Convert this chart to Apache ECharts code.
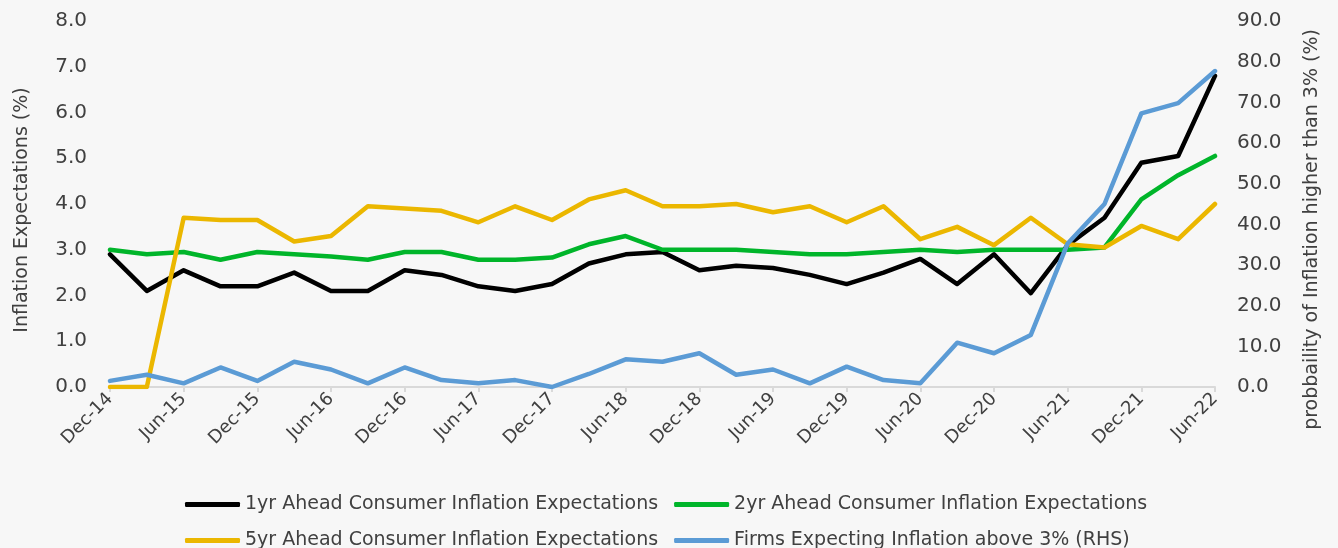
<!DOCTYPE html>
<html>
<head>
<meta charset="utf-8">
<script src="https://cdn.jsdelivr.net/npm/echarts@6/dist/echarts.min.js"></script>
<style>
  html, body { margin: 0; padding: 0; background: #f7f7f7; }
  #chart { width: 1338px; height: 548px; }
</style>
</head>
<body>
<div id="chart"></div>
<script>
// quarterly observations
const categories = ['Dec-14', 'Mar-15', 'Jun-15', 'Sep-15', 'Dec-15', 'Mar-16', 'Jun-16', 'Sep-16',
  'Dec-16', 'Mar-17', 'Jun-17', 'Sep-17', 'Dec-17', 'Mar-18', 'Jun-18', 'Sep-18', 'Dec-18',
  'Mar-19', 'Jun-19', 'Sep-19', 'Dec-19', 'Mar-20', 'Jun-20', 'Sep-20', 'Dec-20', 'Mar-21',
  'Jun-21', 'Sep-21', 'Dec-21', 'Mar-22', 'Jun-22'];

const oneYr = [2.9, 2.1, 2.55, 2.2, 2.2, 2.5, 2.1, 2.1, 2.55, 2.45, 2.2, 2.1, 2.25, 2.7, 2.9, 2.95,
  2.55, 2.65, 2.6, 2.45, 2.25, 2.5, 2.8, 2.25, 2.9, 2.05, 3.1, 3.7, 4.9, 5.05, 6.8];
const twoYr = [3.0, 2.9, 2.95, 2.78, 2.95, 2.9, 2.85, 2.78, 2.95, 2.95, 2.78, 2.78, 2.83, 3.12, 3.3, 3.0,
  3.0, 3.0, 2.95, 2.9, 2.9, 2.95, 3.0, 2.95, 3.0, 3.0, 3.0, 3.05, 4.1, 4.63, 5.05];
const fiveYr = [0, 0, 3.7, 3.65, 3.65, 3.18, 3.3, 3.95, 3.9, 3.85, 3.6, 3.95, 3.65, 4.1, 4.3, 3.95,
  3.95, 4.0, 3.82, 3.95, 3.6, 3.95, 3.23, 3.5, 3.1, 3.7, 3.12, 3.05, 3.52, 3.23, 4.0];
// right hand side, % of firms
const firms = [1.5, 3.0, 0.9, 4.8, 1.5, 6.2, 4.3, 0.9, 4.8, 1.7, 0.9, 1.7, 0, 3.2, 6.8, 6.2,
  8.3, 3.0, 4.3, 0.9, 5.0, 1.7, 0.9, 10.9, 8.3, 12.8, 35.3, 45.0, 67.3, 69.8, 77.7];

const names = [
  '1yr Ahead Consumer Inflation Expectations',
  '2yr Ahead Consumer Inflation Expectations',
  '5yr Ahead Consumer Inflation Expectations',
  'Firms Expecting Inflation above 3% (RHS)'
];
const colors = ['#000000', '#00b52a', '#ebb700', '#5b9bd5'];

const font = '"DejaVu Sans", sans-serif';
const txt = '#404040';

const chart = echarts.init(document.getElementById('chart'));

const lineSeries = (i, data, axis) => ({
  name: names[i],
  type: 'line',
  yAxisIndex: axis,
  data: data,
  symbol: 'none',
  color: colors[i],
  lineStyle: { width: 4.5, color: colors[i], cap: 'round', join: 'round' },
  animation: false
});

const legendRow = (top, items) => ({
  left: 185,
  top: top,
  padding: 0,
  orient: 'horizontal',
  icon: 'roundRect',
  itemWidth: 55,
  itemHeight: 5,
  itemGap: 16,
  data: items,
  textStyle: { fontFamily: font, fontSize: 19, color: txt }
});

chart.setOption({
  backgroundColor: '#f7f7f7',
  textStyle: { fontFamily: font },
  grid: { left: 110, right: 123, top: 21, bottom: 161 },
  legend: [
    legendRow(495, [names[0], names[1]]),
    legendRow(531, [names[2], names[3]])
  ],
  xAxis: {
    type: 'category',
    data: categories,
    boundaryGap: false,
    axisLine: { lineStyle: { color: '#d9d9d9', width: 2 } },
    axisTick: { interval: 1, length: 5, lineStyle: { color: '#d9d9d9', width: 2 } },
    axisLabel: {
      interval: 1, rotate: 45, margin: 9,
      fontFamily: font, fontSize: 18, color: txt
    },
    splitLine: { show: false }
  },
  yAxis: [
    {
      type: 'value', min: 0, max: 8, interval: 1,
      name: 'Inflation Expectations (%)',
      nameLocation: 'middle', nameRotate: 90, nameGap: 78,
      nameTextStyle: { fontFamily: font, fontSize: 19, color: txt, padding: [0, 12, 0, 0] },
      axisLine: { show: false }, axisTick: { show: false }, splitLine: { show: false },
      axisLabel: { formatter: v => v.toFixed(1), fontFamily: font, fontSize: 20, color: txt, margin: 23 }
    },
    {
      type: 'value', min: 0, max: 90, interval: 10,
      name: 'probbaility of Inflation higher than 3% (%)',
      nameLocation: 'middle', nameRotate: 90, nameGap: 88,
      nameTextStyle: { fontFamily: font, fontSize: 19, color: txt, padding: [0, 51, 0, 0] },
      axisLine: { show: false }, axisTick: { show: false }, splitLine: { show: false },
      axisLabel: { formatter: v => v.toFixed(1), fontFamily: font, fontSize: 20, color: txt, margin: 22 }
    }
  ],
  series: [
    lineSeries(0, oneYr, 0),
    lineSeries(1, twoYr, 0),
    lineSeries(2, fiveYr, 0),
    lineSeries(3, firms, 1)
  ]
});
</script>
</body>
</html>
